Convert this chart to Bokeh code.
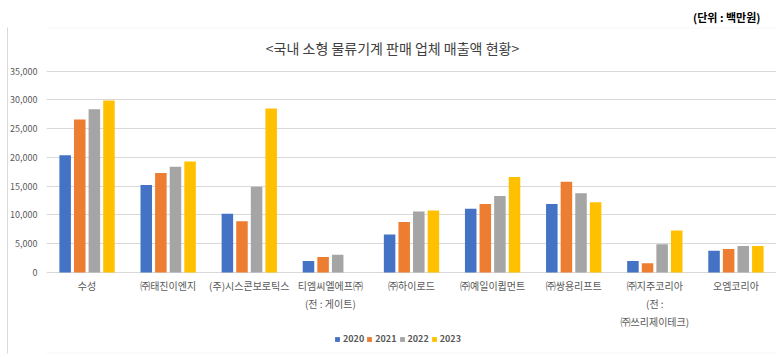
from bokeh.plotting import figure
from bokeh.models import (ColumnDataSource, FactorRange, Range1d, Legend, LegendItem,
                          NumeralTickFormatter, FixedTicker, LinearAxis, Label, BoxAnnotation)
from bokeh.transform import dodge
from bokeh.embed import file_html
from bokeh.resources import INLINE

categories = ["수성", "㈜태진이엔지", "(주)시스콘보로틱스", "티엠씨엘에프㈜\n(전 : 게이트)",
              "㈜하이로드", "㈜예일이큅먼트", "㈜쌍용리프트", "㈜지주코리아\n(전 :\n㈜쓰리제이테크)",
              "오엠코리아"]
years = ["2020", "2021", "2022", "2023"]
v2020 = [20400, 15200, 10200, 2000, 6600, 11100, 11900, 2000, 3800]
v2021 = [26600, 17300, 8900, 2700, 8800, 11900, 15800, 1600, 4100]
v2022 = [28400, 18400, 14900, 3100, 10600, 13300, 13800, 4900, 4600]
v2023 = [29900, 19300, 28500, None, 10800, 16600, 12200, 7300, 4600]
colors = ["#4472C4", "#ED7D31", "#A5A5A5", "#FFC000"]
y_ticks = [0, 5000, 10000, 15000, 20000, 25000, 30000, 35000]
title_text = "<국내 소형 물류기계 판매 업체 매출액 현황>"
unit_text = "(단위 : 백만원)"

FONT = "Noto Sans CJK KR"
W, H = 776, 357
FRAME_LEFT, FRAME_TOP, FRAME_BOTTOM = 46, 27, 353   # frame = boxed chart area
Y0_PX, YMAX_PX = 272.0, 70.7                           # pixel rows of 0 and 35,000
ymax = y_ticks[-1]
per_px = ymax / (Y0_PX - YMAX_PX)
y_start = -(FRAME_BOTTOM - Y0_PX) * per_px
y_end = ymax + (YMAX_PX - FRAME_TOP) * per_px
frame_h = FRAME_BOTTOM - FRAME_TOP
frame_w = W - FRAME_LEFT

src = ColumnDataSource(dict(cat=categories, y2020=v2020, y2021=v2021, y2022=v2022,
                            y2023=[v if v is not None else float("nan") for v in v2023]))

p = figure(width=W, height=H, x_range=FactorRange(*categories), y_range=Range1d(y_start, y_end),
           output_backend="svg", toolbar_location=None,
           min_border_left=FRAME_LEFT, min_border_right=0, min_border_top=FRAME_TOP,
           min_border_bottom=H - FRAME_BOTTOM)
p.outline_line_color = None
p.background_fill_color = "white"
p.border_fill_color = "white"
p.x_range.range_padding = 0
p.x_range.group_padding = 0

# unit text above the box
p.title.text = unit_text
p.title.align = "right"
p.title.offset = 16
p.title.text_font = FONT
p.title.text_font_size = "11px"
p.title.text_font_style = "bold"
p.title.text_color = "#000000"
p.title.standoff = 5

offsets = [-0.27, -0.09, 0.09, 0.27]
renderers = []
for yr, col, off in zip(years, colors, offsets):
    r = p.vbar(x=dodge("cat", off, range=p.x_range), top="y" + yr, width=0.142,
               source=src, color=col, line_color=None)
    renderers.append(r)

p.xgrid.grid_line_color = None
p.ygrid.grid_line_color = "#D9D9D9"
p.ygrid.grid_line_width = 1
p.yaxis.ticker = FixedTicker(ticks=y_ticks)
p.yaxis.formatter = NumeralTickFormatter(format="0,0")
for ax in (p.xaxis[0], p.yaxis[0]):
    ax.axis_line_color = None
    ax.major_tick_line_color = None
    ax.minor_tick_line_color = None
    ax.major_tick_out = 0
    ax.major_tick_in = 0
    ax.major_label_text_color = "#595959"
    ax.major_label_text_font = FONT
p.yaxis.major_label_text_font_size = "9px"
p.yaxis.major_label_standoff = 9
p.xaxis.fixed_location = 0
p.xaxis.major_label_text_font_size = "10px"
p.xaxis.major_label_standoff = 5
p.xaxis.major_label_text_line_height = 1.2

# left edge of the chart box, drawn as a bare axis line spanning the frame height
edge = LinearAxis(ticker=FixedTicker(ticks=[]), axis_line_color="#D9D9D9",
                  major_tick_line_color=None, minor_tick_line_color=None,
                  major_tick_out=0, major_tick_in=0, major_label_text_font_size="0px",
                  major_label_standoff=0)
p.add_layout(edge, "left")

# top and bottom edges of the chart box (left/right fall outside the frame)
p.add_layout(BoxAnnotation(left=-50, right=frame_w + 50, top=frame_h - 0.5, bottom=0.5,
                           left_units="screen", right_units="screen",
                           top_units="screen", bottom_units="screen",
                           fill_alpha=0, line_color="#D9D9D9", line_width=1))

p.add_layout(Label(x=392 - FRAME_LEFT, y=FRAME_BOTTOM - 47, x_units="screen", y_units="screen",
                   text=title_text, text_font=FONT, text_font_size="14px",
                   text_color="#404040", text_align="center", text_baseline="middle"))

legend = Legend(items=[LegendItem(label=yr, renderers=[r]) for yr, r in zip(years, renderers)],
                orientation="horizontal", location=(288, 8),
                label_text_font=FONT, label_text_font_size="9px", label_text_color="#595959",
                label_text_font_style="bold",
                glyph_width=6, glyph_height=6, label_standoff=3, spacing=2,
                padding=0, margin=0, border_line_color=None, background_fill_alpha=0,
                label_height=10)
p.add_layout(legend, "center")

open("out.html", "w").write(file_html(p, INLINE))
